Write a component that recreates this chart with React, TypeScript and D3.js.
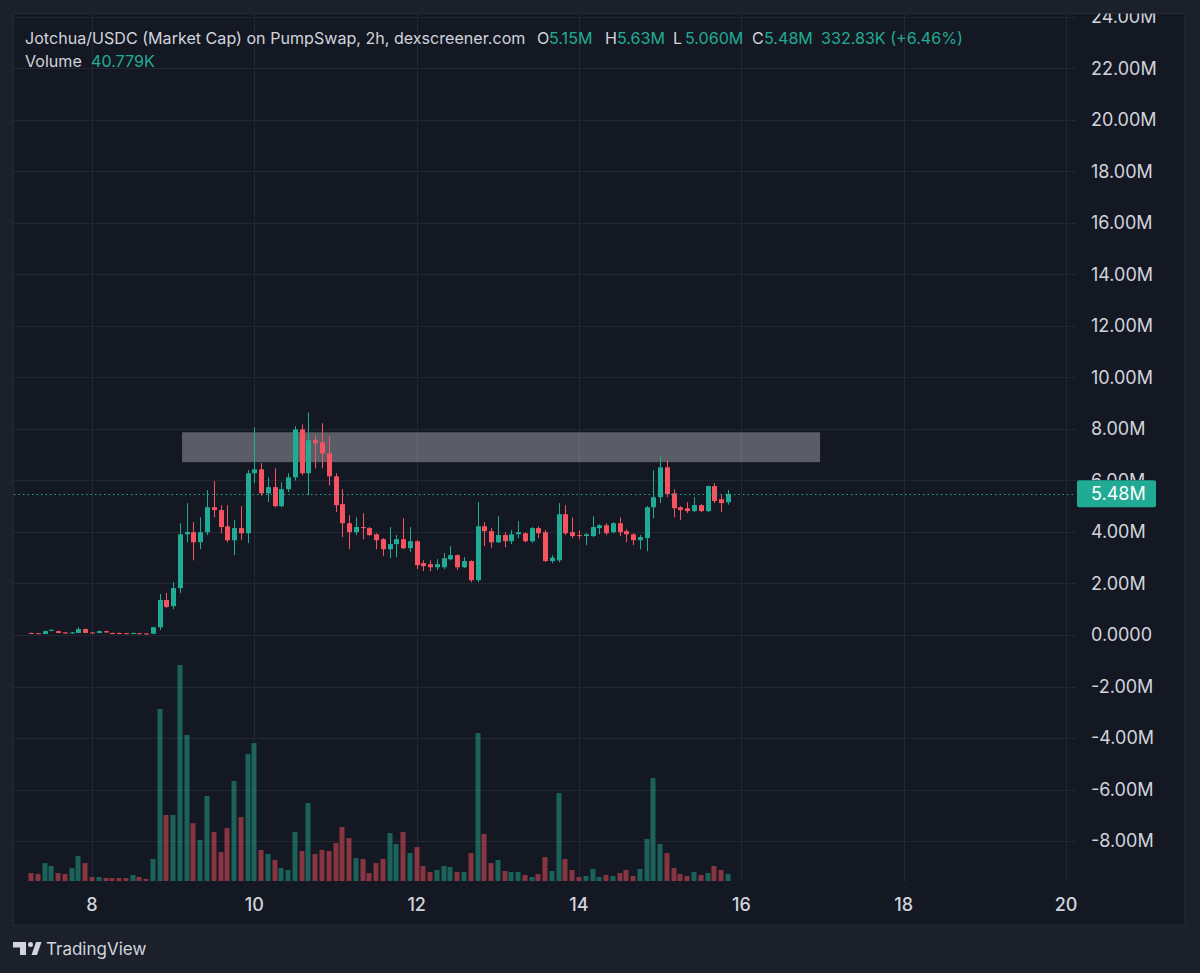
import { useEffect, useRef } from "react";
import { select, scaleLinear, max } from "d3";

// 2h candles, first one at day 7 06:00
const startDay = 7.25;
const barStep = 1 / 12;

// market cap in millions
const opens = [
  0.08, 0.07, 0.04, 0.17, 0.15, 0.1, 0.06, 0.08, 0.23, 0.1, 0.08, 0.15, 0.08, 0.08, 0.07, 0.04, 0.07, 0.06,
  0.05, 0.3, 1.36, 1.12, 1.82, 3.91, 3.99, 3.6, 3.99, 4.96, 4.85, 4.22, 3.68, 4.15, 3.95, 6.28, 6.43, 5.5,
  5.74, 5.0, 5.66, 6.12, 7.98, 6.28, 7.56, 7.48, 7.05, 6.16, 5.08, 4.34, 3.99, 4.19, 4.15, 3.91, 3.72, 3.33,
  3.53, 3.72, 3.37, 3.64, 2.79, 2.75, 2.63, 2.63, 2.94, 3.1, 2.63, 2.87, 2.13, 4.22, 4.03, 3.6, 3.88, 3.64,
  3.91, 3.95, 3.64, 4.15, 3.99, 2.87, 2.9, 4.69, 3.99, 3.88, 3.84, 3.84, 4.15, 4.26, 3.99, 4.34, 4.03, 3.91,
  3.68, 3.76, 4.96, 5.35, 6.51, 5.5, 4.96, 4.92, 4.81, 5.04, 4.81, 5.78, 5.27, 5.15,
];
const highs = [
  0.09, 0.08, 0.17, 0.22, 0.17, 0.11, 0.12, 0.3, 0.25, 0.11, 0.17, 0.17, 0.09, 0.09, 0.08, 0.09, 0.08, 0.07,
  0.32, 1.59, 1.63, 2.05, 4.34, 5.12, 4.38, 4.57, 5.62, 5.97, 5.04, 5.04, 4.46, 5.0, 6.4, 8.06, 6.67, 6.12,
  6.47, 5.93, 6.28, 8.1, 8.18, 8.64, 7.75, 8.22, 7.71, 6.28, 5.66, 4.65, 4.57, 4.73, 4.19, 3.95, 3.76, 4.19,
  3.88, 4.53, 4.19, 3.68, 2.9, 2.9, 2.94, 3.18, 3.45, 3.14, 3.02, 2.9, 5.16, 4.38, 4.15, 4.61, 3.99, 4.07,
  4.42, 3.99, 4.19, 4.22, 4.07, 3.1, 5.12, 5.04, 4.57, 4.07, 3.95, 4.61, 4.3, 4.34, 4.38, 4.57, 4.1, 3.95,
  3.88, 5.0, 6.4, 6.94, 6.78, 5.66, 5.0, 5.16, 5.35, 5.08, 5.8, 5.89, 5.43, 5.63,
];
const lows = [
  0.05, 0.05, 0.03, 0.15, 0.07, 0.05, 0.05, 0.07, 0.07, 0.05, 0.07, 0.09, 0.03, 0.04, 0.03, 0.03, 0.03, 0.02,
  0.03, 0.2, 1.05, 1.0, 1.63, 3.6, 2.9, 3.33, 3.88, 4.57, 3.95, 3.6, 3.1, 3.68, 3.57, 5.89, 5.4, 5.16,
  4.96, 4.96, 5.55, 6.0, 6.2, 5.43, 6.47, 6.47, 5.81, 4.77, 3.8, 3.33, 3.88, 3.72, 3.85, 3.33, 3.06, 2.98,
  3.02, 3.33, 3.22, 2.56, 2.48, 2.48, 2.52, 2.56, 2.9, 2.52, 2.6, 2.05, 2.05, 3.45, 3.37, 3.57, 3.41, 3.53,
  3.76, 3.6, 3.57, 3.76, 2.83, 2.79, 2.83, 3.88, 3.76, 3.72, 3.49, 3.8, 3.91, 3.88, 3.95, 3.84, 3.6, 3.49,
  3.33, 3.25, 4.53, 5.12, 5.35, 4.57, 4.46, 4.73, 4.77, 4.77, 4.77, 5.12, 4.77, 5.06,
];
const closes = [
  0.06, 0.05, 0.15, 0.2, 0.08, 0.06, 0.1, 0.23, 0.08, 0.06, 0.15, 0.1, 0.04, 0.05, 0.04, 0.08, 0.04, 0.03,
  0.3, 1.36, 1.09, 1.82, 3.91, 4.0, 3.6, 3.99, 4.96, 4.85, 4.19, 3.68, 4.15, 3.95, 6.28, 6.43, 5.5, 5.74,
  5.0, 5.66, 6.12, 7.98, 6.28, 7.56, 7.45, 7.05, 6.16, 5.04, 4.34, 3.99, 4.19, 4.15, 3.88, 3.68, 3.33, 3.53,
  3.72, 3.37, 3.64, 2.71, 2.67, 2.63, 2.75, 2.98, 3.1, 2.63, 2.87, 2.13, 4.22, 4.03, 3.6, 3.88, 3.64, 3.91,
  3.99, 3.64, 4.15, 3.95, 2.87, 3.0, 4.69, 3.95, 3.84, 3.84, 3.91, 4.19, 4.26, 3.95, 4.34, 3.99, 3.91, 3.68,
  3.8, 4.96, 5.35, 6.51, 5.47, 4.92, 4.85, 4.81, 5.04, 4.81, 5.78, 5.2, 5.12, 5.48,
];
// volume in thousands
const volumes = [
  46, 41, 104, 87, 46, 41, 75, 145, 104, 23, 23, 17, 17, 17, 17, 35, 23, 12, 128, 998, 383, 383, 1253, 847,
  336, 238, 493, 284, 168, 307, 580, 371, 737, 800, 180, 157, 122, 75, 64, 284, 174, 452, 157, 180, 174,
  220, 313, 249, 133, 128, 46, 104, 128, 278, 215, 284, 162, 197, 87, 52, 64, 87, 81, 52, 52, 162, 858, 273,
  104, 122, 58, 52, 52, 35, 23, 41, 139, 58, 510, 128, 64, 23, 29, 70, 23, 35, 29, 46, 64, 29, 70, 244, 597,
  215, 162, 75, 41, 29, 52, 35, 46, 87, 64, 40.779,
];

const priceTicks = [24, 22, 20, 18, 16, 14, 12, 10, 8, 6, 4, 2, 0, -2, -4, -6, -8];
const dayTicks = [8, 10, 12, 14, 16, 18, 20];

// grey rectangle drawing (days / millions)
const zoneDays = [9.11, 16.97];
const zonePrices = [7.87, 6.71];

const lastPrice = 5.48;

const UP = "#22ab94";
const DOWN = "#f7525f";
const TXT = "#d1d4dc";
const FONT = "Inter, 'Noto Sans', sans-serif";

const fmtTick = (v: number) => (v === 0 ? "0.0000" : `${v.toFixed(2)}M`);

const drawChart = (ref: HTMLDivElement) => {
  const canvas = select(ref);
  canvas.selectAll("svg").remove();

  const W = 1200;
  const H = 973;
  const plot = { l: 14, r: 1076, t: 13, b: 882 };
  const panel = { l: 13.5, r: 1185, t: 13.5, b: 925 };

  const svg = canvas
    .append("svg")
    .attr("width", W)
    .attr("height", H)
    .style("display", "block")
    .style("font-family", FONT);

  svg.append("rect").attr("width", W).attr("height", H).attr("fill", "#1c202b");
  svg
    .append("rect")
    .attr("x", panel.l)
    .attr("y", panel.t)
    .attr("width", panel.r - panel.l)
    .attr("height", panel.b - panel.t)
    .attr("fill", "#141823")
    .attr("stroke", "#262a35");

  svg
    .append("clipPath")
    .attr("id", "panelClip")
    .append("rect")
    .attr("x", panel.l)
    .attr("y", panel.t)
    .attr("width", panel.r - panel.l)
    .attr("height", panel.b - panel.t);

  const x = scaleLinear().domain([8, 20]).range([92, 1066]);
  const y = scaleLinear().domain([0, 22]).range([635, 68.3]);
  const vy = scaleLinear()
    .domain([0, max(volumes) as number])
    .range([881, 665]);

  const g = svg.append("g").attr("clip-path", "url(#panelClip)");

  // grid
  g.append("g")
    .selectAll("line")
    .data(priceTicks)
    .join("line")
    .attr("x1", plot.l)
    .attr("x2", plot.r)
    .attr("y1", (d) => Math.round(y(d)) + 0.5)
    .attr("y2", (d) => Math.round(y(d)) + 0.5)
    .attr("stroke", "#232733");
  g.append("g")
    .selectAll("line")
    .data(dayTicks)
    .join("line")
    .attr("x1", (d) => Math.round(x(d)) + 0.5)
    .attr("x2", (d) => Math.round(x(d)) + 0.5)
    .attr("y1", plot.t)
    .attr("y2", plot.b)
    .attr("stroke", "#232733");

  const bars = opens.map((o, i) => ({
    t: startDay + i * barStep,
    o,
    h: highs[i],
    l: lows[i],
    c: closes[i],
    v: volumes[i],
    up: closes[i] >= o,
  }));

  // volume
  g.append("g")
    .selectAll("rect")
    .data(bars)
    .join("rect")
    .attr("x", (d) => Math.round(x(d.t)) - 2.5)
    .attr("width", 5)
    .attr("y", (d) => vy(d.v))
    .attr("height", (d) => vy(0) - vy(d.v))
    .attr("fill", (d) => (d.up ? UP : DOWN))
    .attr("fill-opacity", 0.5);

  // grey zone, drawn under the candles
  g.append("rect")
    .attr("x", x(zoneDays[0]))
    .attr("width", x(zoneDays[1]) - x(zoneDays[0]))
    .attr("y", y(zonePrices[0]))
    .attr("height", y(zonePrices[1]) - y(zonePrices[0]))
    .attr("fill", "#ffffff")
    .attr("fill-opacity", 0.3);

  // candles
  const cg = g.append("g").selectAll("g").data(bars).join("g");
  cg.append("line")
    .attr("x1", (d) => Math.round(x(d.t)) + 0.5)
    .attr("x2", (d) => Math.round(x(d.t)) + 0.5)
    .attr("y1", (d) => y(d.h))
    .attr("y2", (d) => y(d.l))
    .attr("stroke", (d) => (d.up ? UP : DOWN));
  cg.append("rect")
    .attr("x", (d) => Math.round(x(d.t)) - 2)
    .attr("width", 5)
    .attr("y", (d) => y(Math.max(d.o, d.c)))
    .attr("height", (d) => Math.max(1, Math.abs(y(d.o) - y(d.c))))
    .attr("fill", (d) => (d.up ? UP : DOWN));

  // last price line
  g.append("line")
    .attr("x1", plot.l)
    .attr("x2", plot.r)
    .attr("y1", Math.round(y(lastPrice)) + 0.5)
    .attr("y2", Math.round(y(lastPrice)) + 0.5)
    .attr("stroke", UP)
    .attr("stroke-dasharray", "1.5,3");

  // price axis (the label under the badge only peeks out above it)
  const badgeTop = y(lastPrice) - 13.5;
  svg
    .append("clipPath")
    .attr("id", "aboveBadge")
    .append("rect")
    .attr("x", 1077)
    .attr("y", 0)
    .attr("width", 110)
    .attr("height", badgeTop);
  g.append("g")
    .selectAll("text")
    .data(priceTicks)
    .join("text")
    .attr("x", 1091)
    .attr("y", (d) => y(d) + 6.3)
    .attr("fill", TXT)
    .attr("font-size", 18)
    .attr("clip-path", (d) =>
      Math.abs(y(d) - y(lastPrice)) < 20 ? "url(#aboveBadge)" : null
    )
    .text(fmtTick);

  g.append("rect")
    .attr("x", 1077)
    .attr("y", badgeTop)
    .attr("width", 79)
    .attr("height", 27)
    .attr("rx", 2)
    .attr("fill", UP);
  g.append("text")
    .attr("x", 1091)
    .attr("y", y(lastPrice) + 6.5)
    .attr("fill", "#ffffff")
    .attr("font-size", 18)
    .text(fmtTick(lastPrice));

  // time axis
  g.append("g")
    .selectAll("text")
    .data(dayTicks)
    .join("text")
    .attr("x", (d) => x(d))
    .attr("y", 911)
    .attr("text-anchor", "middle")
    .attr("fill", TXT)
    .attr("font-size", 18)
    .attr("font-weight", 500)
    .text((d) => d);

  // legend
  const legend = [
    { x: 25, t: "Jotchua/USDC (Market Cap) on PumpSwap, 2h, dexscreener.com", c: TXT },
    { x: 537, t: "O", c: TXT },
    { x: 549, t: "5.15M", c: UP },
    { x: 605, t: "H", c: TXT },
    { x: 617, t: "5.63M", c: UP },
    { x: 673, t: "L", c: TXT },
    { x: 685, t: "5.060M", c: UP },
    { x: 752, t: "C", c: TXT },
    { x: 764, t: "5.48M", c: UP },
    { x: 821, t: "332.83K (+6.46%)", c: UP },
  ];
  g.append("g")
    .selectAll("text")
    .data(legend)
    .join("text")
    .attr("x", (d) => d.x)
    .attr("y", 44)
    .attr("fill", (d) => d.c)
    .attr("font-size", 16.1)
    .text((d) => d.t);
  g.append("text").attr("x", 25).attr("y", 66.5).attr("fill", TXT).attr("font-size", 16.1).text("Volume");
  g.append("text")
    .attr("x", 91)
    .attr("y", 66.5)
    .attr("fill", UP)
    .attr("font-size", 16.1)
    .text(`${volumes[volumes.length - 1]}K`);

  // TradingView mark
  const logo = svg.append("g").attr("fill", TXT);
  logo.append("path").attr("d", "M13 942 H26 V955 H20 V947.5 H13 Z");
  logo.append("circle").attr("cx", 30.5).attr("cy", 944.5).attr("r", 2.5);
  logo.append("path").attr("d", "M31.5 955 L36 942 H41.5 L37 955 Z");
  svg
    .append("text")
    .attr("x", 46)
    .attr("y", 955)
    .attr("fill", TXT)
    .attr("font-size", 17)
    .text("TradingView");
};

export default function App() {
  const ref = useRef<HTMLDivElement>(null);

  useEffect(() => {
    if (ref.current) drawChart(ref.current);
  }, []);

  return <div ref={ref} style={{ position: "absolute", left: 0, top: 0 }}></div>;
}
